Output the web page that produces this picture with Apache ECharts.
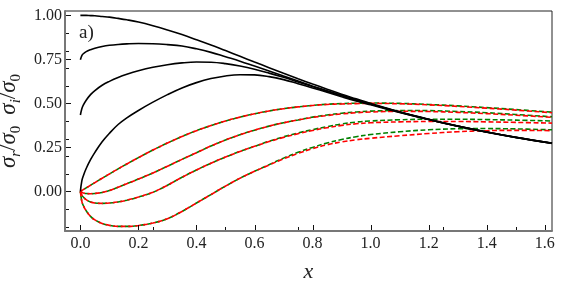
<!DOCTYPE html>
<html>
<head>
<meta charset="utf-8">
<script src="https://cdn.jsdelivr.net/npm/echarts@6/dist/echarts.min.js"></script>
<style>html,body{margin:0;padding:0;background:#fff}#c{width:562px;height:281px}</style>
</head>
<body>
<div id="c"></div>
<script>
// x values
const xs = [0, 0.005, 0.01, 0.02, 0.035, 0.05, 0.075, 0.1, 0.13, 0.16, 0.2, 0.25, 0.3, 0.35, 0.4, 0.45, 0.5, 0.55, 0.6, 0.65, 0.7, 0.75, 0.8, 0.85, 0.9, 0.95, 1.0, 1.1, 1.2, 1.3, 1.4, 1.5, 1.625];
// black solid curves (sigma_r / sigma_0)
const blackA = [1.0, 1.0, 1.0, 1.0, 0.999, 0.998, 0.994, 0.99, 0.983, 0.975, 0.962, 0.941, 0.917, 0.891, 0.862, 0.832, 0.8, 0.768, 0.735, 0.703, 0.671, 0.64, 0.61, 0.581, 0.552, 0.526, 0.5, 0.452, 0.41, 0.372, 0.338, 0.308, 0.275];
const blackB = [0.748, 0.772, 0.782, 0.794, 0.805, 0.813, 0.823, 0.83, 0.835, 0.838, 0.84, 0.839, 0.834, 0.826, 0.81, 0.79, 0.765, 0.74, 0.712, 0.684, 0.655, 0.627, 0.598, 0.572, 0.546, 0.521, 0.497, 0.451, 0.409, 0.371, 0.337, 0.307, 0.274];
const blackC = [0.434, 0.47, 0.49, 0.518, 0.55, 0.573, 0.603, 0.625, 0.647, 0.665, 0.685, 0.705, 0.72, 0.73, 0.735, 0.734, 0.726, 0.712, 0.694, 0.672, 0.648, 0.622, 0.596, 0.569, 0.543, 0.518, 0.495, 0.45, 0.409, 0.371, 0.337, 0.307, 0.274];
const blackD = [0, 0.06, 0.088, 0.13, 0.18, 0.222, 0.282, 0.33, 0.38, 0.418, 0.46, 0.507, 0.55, 0.588, 0.618, 0.641, 0.656, 0.663, 0.662, 0.652, 0.635, 0.612, 0.588, 0.563, 0.538, 0.514, 0.492, 0.449, 0.408, 0.37, 0.336, 0.306, 0.273];
// red dashed curves (sigma_i / sigma_0)
const red1 = [0, 0.005, 0.01, 0.02, 0.035, 0.05, 0.075, 0.099, 0.128, 0.156, 0.192, 0.235, 0.275, 0.312, 0.345, 0.374, 0.4, 0.422, 0.441, 0.457, 0.47, 0.48, 0.488, 0.494, 0.497, 0.499, 0.5, 0.498, 0.492, 0.483, 0.473, 0.462, 0.447];
const red2 = [0, -0.006, -0.009, -0.012, -0.013, -0.012, -0.006, 0.005, 0.024, 0.044, 0.07, 0.105, 0.143, 0.182, 0.22, 0.258, 0.292, 0.322, 0.348, 0.371, 0.39, 0.406, 0.42, 0.431, 0.44, 0.447, 0.451, 0.455, 0.454, 0.449, 0.442, 0.433, 0.421];
const red3 = [0, -0.02, -0.032, -0.047, -0.06, -0.066, -0.068, -0.066, -0.06, -0.05, -0.032, -0.005, 0.035, 0.08, 0.122, 0.16, 0.195, 0.227, 0.256, 0.283, 0.307, 0.328, 0.346, 0.362, 0.375, 0.384, 0.39, 0.395, 0.397, 0.397, 0.395, 0.392, 0.388];
const red4 = [0, -0.057, -0.08, -0.11, -0.142, -0.162, -0.182, -0.193, -0.199, -0.199, -0.194, -0.18, -0.155, -0.114, -0.066, -0.018, 0.03, 0.075, 0.114, 0.15, 0.185, 0.216, 0.243, 0.265, 0.281, 0.293, 0.302, 0.316, 0.329, 0.339, 0.345, 0.347, 0.345];
// green dashed curves
const green1 = [0, 0.005, 0.01, 0.02, 0.035, 0.05, 0.075, 0.099, 0.128, 0.156, 0.192, 0.235, 0.275, 0.312, 0.345, 0.374, 0.4, 0.422, 0.441, 0.457, 0.47, 0.48, 0.489, 0.495, 0.499, 0.501, 0.502, 0.5, 0.494, 0.486, 0.476, 0.465, 0.45];
const green2 = [0, -0.006, -0.009, -0.012, -0.013, -0.012, -0.006, 0.005, 0.024, 0.044, 0.07, 0.105, 0.143, 0.182, 0.22, 0.258, 0.292, 0.322, 0.348, 0.371, 0.39, 0.406, 0.422, 0.434, 0.444, 0.451, 0.456, 0.46, 0.459, 0.454, 0.447, 0.437, 0.424];
const green3 = [0, -0.02, -0.032, -0.047, -0.06, -0.066, -0.068, -0.066, -0.06, -0.05, -0.032, -0.005, 0.035, 0.08, 0.122, 0.16, 0.195, 0.227, 0.256, 0.285, 0.31, 0.332, 0.351, 0.368, 0.383, 0.394, 0.4, 0.407, 0.41, 0.41, 0.408, 0.405, 0.4];
const green4 = [0, -0.057, -0.08, -0.11, -0.142, -0.162, -0.182, -0.193, -0.199, -0.199, -0.194, -0.18, -0.155, -0.114, -0.066, -0.018, 0.03, 0.075, 0.114, 0.152, 0.189, 0.222, 0.25, 0.275, 0.295, 0.311, 0.323, 0.339, 0.35, 0.356, 0.357, 0.355, 0.35];
// ticks
const xTicks = [0, 0.2, 0.4, 0.6, 0.8, 1.0, 1.2, 1.4, 1.6];
const xMinorTicks = [0.25, 0.5, 0.75, 1.25, 1.5];
const yTicks = [0, 0.25, 0.5, 0.75, 1.0];
const yMinorTicks = [-0.2, -0.1, 0.1, 0.2, 0.3, 0.4, 0.6, 0.7, 0.8, 0.9];

const FONT = 'Liberation Serif';
const pairs = arr => xs.map((x, i) => [x, arr[i]]);
const X_MIN = -0.053, X_MAX = 1.625, Y_MIN = -0.225, Y_MAX = 1.025;
const G_LEFT = 65, G_RIGHT = 10, G_TOP = 11, G_BOTTOM = 50, W = 562, H = 281;

function dashed(arr, color, offset) {
  return { type: 'line', data: pairs(arr), showSymbol: false, symbol: 'none', smooth: 0.4,
    lineStyle: { color, width: 1.6, type: [5, 2.5], dashOffset: offset }, z: 2, silent: true };
}
function solid(arr) {
  return { type: 'line', data: pairs(arr), showSymbol: false, symbol: 'none', smooth: 0.4,
    lineStyle: { color: '#000', width: 1.6 }, z: 3, silent: true };
}

const chart = echarts.init(document.getElementById('c'), null, { renderer: 'canvas' });
chart.setOption({
  animation: false,
  grid: { left: G_LEFT, right: G_RIGHT, top: G_TOP, bottom: G_BOTTOM, containLabel: false, outerBoundsMode: 'none',
    show: true, borderColor: '#222', borderWidth: 1, backgroundColor: 'transparent' },
  xAxis: {
    type: 'value', min: X_MIN, max: X_MAX, position: 'bottom',
    splitLine: { show: false },
    axisLine: { show: true, onZero: false, lineStyle: { color: '#777', width: 2 } },
    axisTick: { show: false },
    axisLabel: { show: true, customValues: xTicks, formatter: v => v.toFixed(1), fontFamily: FONT, fontSize: 16, color: '#222', margin: 5 },
    name: 'x', nameLocation: 'middle', nameGap: 30,
    nameTextStyle: { fontFamily: FONT, fontStyle: 'italic', fontSize: 22, color: '#222' }
  },
  yAxis: {
    type: 'value', min: Y_MIN, max: Y_MAX, position: 'left',
    splitLine: { show: false },
    axisLine: { show: true, onZero: false, lineStyle: { color: '#777', width: 2 } },
    axisTick: { show: false },
    axisLabel: { show: true, customValues: yTicks, formatter: v => v.toFixed(2), fontFamily: FONT, fontSize: 16, color: '#222', margin: 3 },
    name: '{m|σ}{s|r}{u|/}{m|σ}{z|0}  {m|σ}{s|i}{u|/}{m|σ}{z|0}',
    nameLocation: 'middle', nameGap: 39,
    nameTextStyle: {
      fontFamily: FONT, fontSize: 22, color: '#222',
      rich: {
        m: { fontFamily: FONT, fontStyle: 'italic', fontSize: 23, lineHeight: 28, color: '#222' },
        u: { fontFamily: FONT, fontSize: 23, lineHeight: 28, color: '#222' },
        s: { fontFamily: FONT, fontStyle: 'italic', fontSize: 15, lineHeight: 15, verticalAlign: 'bottom', color: '#222' },
        z: { fontFamily: FONT, fontSize: 15, lineHeight: 15, verticalAlign: 'bottom', color: '#222' }
      }
    }
  },
  series: [
    dashed(green1, '#008000', 3), dashed(green2, '#008000', 3), dashed(green3, '#008000', 3), dashed(green4, '#008000', 3),
    dashed(red1, '#ff0000', 0), dashed(red2, '#ff0000', 0), dashed(red3, '#ff0000', 0), dashed(red4, '#ff0000', 0),
    solid(blackA), solid(blackB), solid(blackC), solid(blackD)
  ]
});

// inward tick marks: pixel positions from the chart's own axis scales (with a linear fallback)
function px(v) {
  let r;
  try { r = chart.convertToPixel({ xAxisIndex: 0 }, v); } catch (e) { r = NaN; }
  if (!isFinite(r)) r = G_LEFT + (v - X_MIN) / (X_MAX - X_MIN) * (W - G_LEFT - G_RIGHT);
  return r;
}
function py(v) {
  let r;
  try { r = chart.convertToPixel({ yAxisIndex: 0 }, v); } catch (e) { r = NaN; }
  if (!isFinite(r)) r = H - G_BOTTOM - (v - Y_MIN) / (Y_MAX - Y_MIN) * (H - G_TOP - G_BOTTOM);
  return r;
}
const els = [{ type: 'text', left: 79, top: 24, z: 20,
  style: { text: 'a)', fontFamily: FONT, fontSize: 19, fill: '#222' } }];
const yBottom = H - G_BOTTOM, xLeft = G_LEFT;
function addTicks(values, isX, len) {
  values.forEach(v => {
    if (isX) {
      const x = Math.round(px(v)) + 0.5;
      els.push({ type: 'line', z: 20, silent: true, shape: { x1: x, y1: yBottom - 1, x2: x, y2: yBottom - 1 - len }, style: { stroke: '#111', lineWidth: 1 } });
    } else {
      const y = Math.round(py(v)) + 0.5;
      els.push({ type: 'line', z: 20, silent: true, shape: { x1: xLeft + 1, y1: y, x2: xLeft + 1 + len, y2: y }, style: { stroke: '#111', lineWidth: 1 } });
    }
  });
}
addTicks(xTicks, true, 5);
addTicks(xMinorTicks, true, 3);
addTicks(yTicks, false, 5);
addTicks(yMinorTicks, false, 3);
chart.setOption({ graphic: { elements: els } });
</script>
</body>
</html>
